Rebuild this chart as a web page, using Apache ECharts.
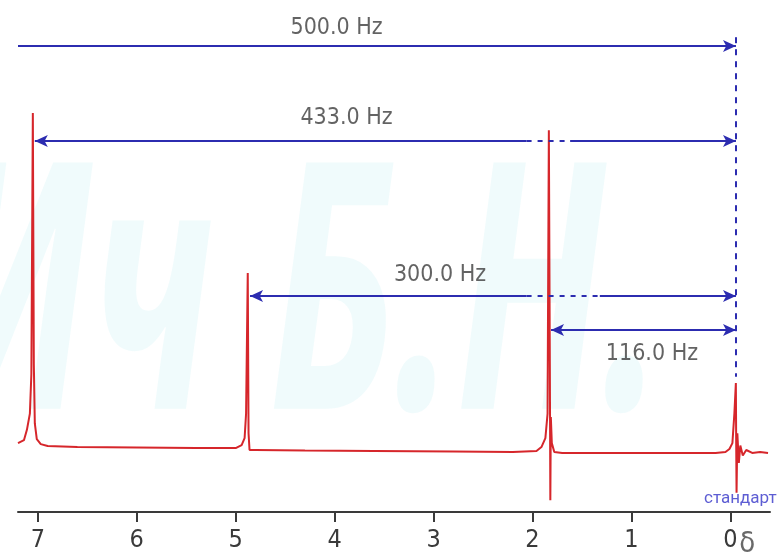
<!DOCTYPE html>
<html>
<head>
<meta charset="utf-8">
<script src="https://cdn.jsdelivr.net/npm/echarts@6/dist/echarts.min.js"></script>
<style>html,body{margin:0;padding:0;background:#fff}#c{width:777px;height:557px}</style>
</head>
<body>
<div id="c"></div>
<script>
// chemical shift ticks (ppm)
const xTicks = [0, 1, 2, 3, 4, 5, 6, 7];
// spectrum trace (ppm, relative intensity)
const specPpm = [7.20, 7.14, 7.11, 7.08, 7.065, 7.05, 7.04, 7.03, 7.01, 6.97, 6.90, 6.60, 6.00, 5.40, 5.00, 4.94, 4.91, 4.895, 4.878, 4.87, 4.86, 4.80, 4.30, 3.60, 2.80, 2.20, 1.96, 1.91, 1.87, 1.848, 1.835, 1.825, 1.82, 1.815, 1.805, 1.78, 1.70, 1.20, 0.60, 0.15, 0.05, 0.01, -0.02, -0.04, -0.055, -0.058, -0.062, -0.07, -0.085, -0.10, -0.125, -0.16, -0.22, -0.30, -0.38];
const specInt = [14.0, 14.6, 16.7, 20, 28, 81.1, 30, 18, 14.8, 13.8, 13.4, 13.2, 13.1, 13.0, 13.0, 13.6, 15, 20, 48.6, 16, 12.6, 12.6, 12.5, 12.4, 12.3, 12.2, 12.4, 13.2, 15, 20, 77.6, 30, 2.4, 19.3, 14, 12.2, 12.0, 12.0, 12.0, 12.0, 12.2, 12.8, 14, 20, 26.2, 15, 3.9, 16, 10, 13.5, 11.5, 12.6, 12.0, 12.2, 12.0];
// distance arrows: Hz value, start ppm, end ppm (standard), height
const hzLabels = ['500.0 Hz', '433.0 Hz', '300.0 Hz', '116.0 Hz'];
const arrowStart = [7.2, 7.03, 4.855, 1.813];
const arrowEnd = -0.056;
const arrowLevel = [94.7, 75.4, 43.9, 37.0];
const labelPpm = [3.98, 3.88, 2.935, 0.793];
const labelLevel = [98.4, 80.0, 48.2, 32.2];
const dashFrom = [null, 2.06, 2.06, null];
const dashTo = [null, 1.62, 1.32, null];
const stdLabel = 'стандарт';
const stdPos = [-0.10, 2.6];
const axisSymbol = 'δ';
const axisSymbolPos = [-0.17, -6.6];

const blue = '#2c2cb0';
const lines = [];
for (let i = 0; i < hzLabels.length; i++) {
  const y = arrowLevel[i];
  const startSym = i === 0 ? 'none' : 'arrow';
  if (dashFrom[i] === null) {
    lines.push([{coord: [arrowStart[i], y], symbol: startSym}, {coord: [arrowEnd, y], symbol: 'arrow'}]);
  } else {
    lines.push([{coord: [arrowStart[i], y], symbol: startSym}, {coord: [dashFrom[i], y], symbol: 'none'}]);
    lines.push([{coord: [dashFrom[i], y], symbol: 'none', lineStyle: {type: [5, 6], width: 2}}, {coord: [dashTo[i], y], symbol: 'none'}]);
    lines.push([{coord: [dashTo[i], y], symbol: 'none'}, {coord: [arrowEnd, y], symbol: 'arrow'}]);
  }
}
lines.push([{coord: [arrowEnd, 96.5], symbol: 'none', lineStyle: {type: [6, 6], width: 2}}, {coord: [arrowEnd, 27.5], symbol: 'none'}]);

const labelData = hzLabels.map((t, i) => ({value: [labelPpm[i], labelLevel[i]], label: {formatter: t}}));
labelData.push({value: stdPos, label: {formatter: stdLabel, color: '#3434c8', fontSize: 17, fontFamily: 'Roboto'}});
labelData.push({value: axisSymbolPos, label: {formatter: axisSymbol, color: '#444', fontSize: 29}});

const chart = echarts.init(document.getElementById('c'), null, {renderer: 'canvas'});
chart.setOption({
  animation: false,
  backgroundColor: '#ffffff',
  graphic: [{
    type: 'text', left: -60, top: 138, z: -10, silent: true,
    scaleX: 0.62,
    style: {text: 'Ич Б.Н.', font: 'italic bold 345px "Noto Sans"', fill: 'rgba(120,215,230,0.11)'}
  }],
  grid: {left: 18, right: 7, top: 20, bottom: 45},
  xAxis: {
    type: 'value', inverse: true, min: -0.4, max: 7.2,
    axisLine: {show: true, lineStyle: {color: '#3a3a3a', width: 2}},
    axisTick: {show: true, length: 10, customValues: xTicks, lineStyle: {color: '#3a3a3a', width: 2}},
    axisLabel: {customValues: xTicks, margin: 16, color: '#3a3a3a', fontSize: 25, fontFamily: '"DejaVu Sans Condensed", "Liberation Sans Narrow", Roboto'},
    splitLine: {show: false}
  },
  yAxis: {type: 'value', min: 0, max: 100, show: false},
  series: [{
    type: 'line',
    data: specPpm.map((p, i) => [p, specInt[i]]),
    symbol: 'none', smooth: false,
    lineStyle: {color: '#d6262b', width: 2},
    z: 3,
    markLine: {
      silent: true, animation: false,
      symbolSize: [9, 13],
      label: {show: false},
      lineStyle: {color: blue, width: 2, type: 'solid'},
      emphasis: {disabled: true},
      data: lines
    }
  }, {
    type: 'scatter', clip: false, symbolSize: 0, silent: true, z: 4,
    data: labelData,
    label: {show: true, position: 'inside', color: '#3c3c3c', fontSize: 23, fontFamily: '"DejaVu Sans Condensed", "Liberation Sans Narrow", Roboto'}
  }]
});
</script>
</body>
</html>
